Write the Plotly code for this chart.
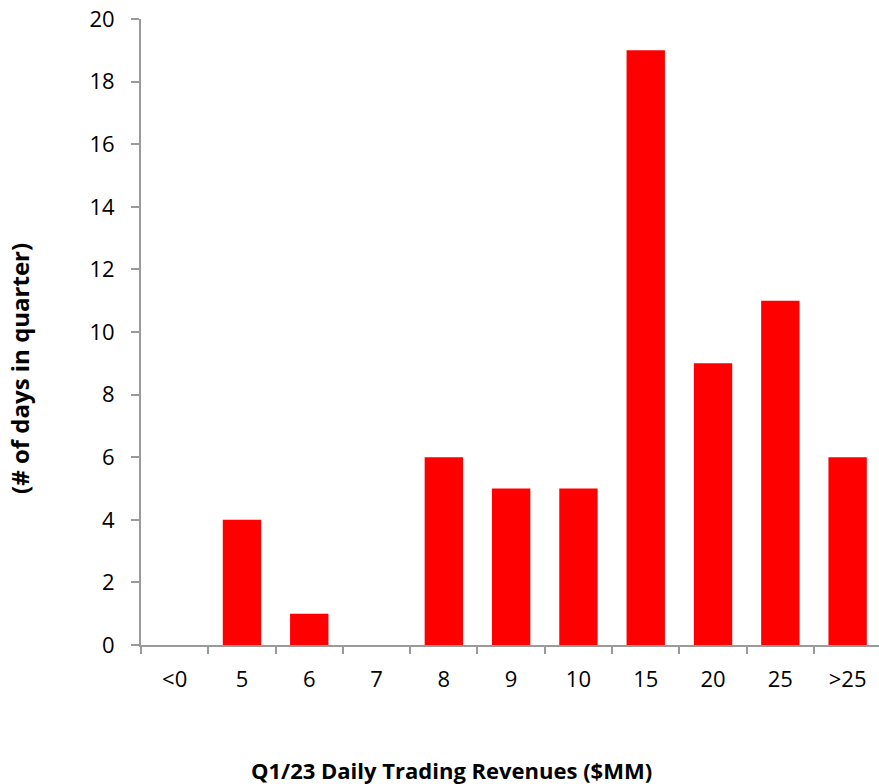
import plotly.graph_objects as go

categories = ["<0", "5", "6", "7", "8", "9", "10", "15", "20", "25", ">25"]
days = [0, 4, 1, 0, 6, 5, 5, 19, 9, 11, 6]
y_ticks = [0, 2, 4, 6, 8, 10, 12, 14, 16, 18, 20]

x_title = "Q1/23 Daily Trading Revenues ($MM)"
y_title = "(# of days in quarter)"

axis_color = "#9a9a9a"
font_family = "Open Sans, Noto Sans, sans-serif"

fig = go.Figure(
    go.Bar(
        x=categories,
        y=days,
        marker=dict(color="#ff0000", line=dict(width=0)),
        width=0.57,
    )
)

fig.update_layout(
    width=879,
    height=784,
    margin=dict(l=141, r=0, t=19, b=139),
    plot_bgcolor="white",
    paper_bgcolor="white",
    showlegend=False,
    font=dict(family=font_family, size=22, color="#000000"),
)

fig.update_xaxes(
    type="category",
    range=[-0.5, 10.466],
    showline=True,
    linecolor=axis_color,
    linewidth=2,
    ticks="outside",
    tickson="boundaries",
    ticklen=7,
    tickwidth=2,
    tickcolor=axis_color,
    ticklabelstandoff=14,
    showgrid=False,
    tickfont=dict(size=22),
)

fig.update_yaxes(
    range=[0, 20],
    tickvals=y_ticks,
    showline=True,
    linecolor=axis_color,
    linewidth=2,
    ticks="outside",
    ticklen=8,
    tickwidth=2,
    tickcolor=axis_color,
    ticklabelstandoff=12,
    showgrid=False,
    zeroline=False,
    tickfont=dict(size=22),
)

# Axis titles placed as annotations so their centres can be set freely
fig.add_annotation(
    text=f"<b>{x_title}</b>",
    xref="paper", yref="paper",
    x=0.4214, y=-0.1997,
    xanchor="center", yanchor="middle",
    showarrow=False,
    font=dict(size=22),
)
fig.add_annotation(
    text=f"<b>{y_title}</b>",
    xref="paper", yref="paper",
    x=-0.1640, y=0.4425,
    xanchor="center", yanchor="middle",
    textangle=-90,
    showarrow=False,
    font=dict(size=24),
)

fig.write_html("out.html")
